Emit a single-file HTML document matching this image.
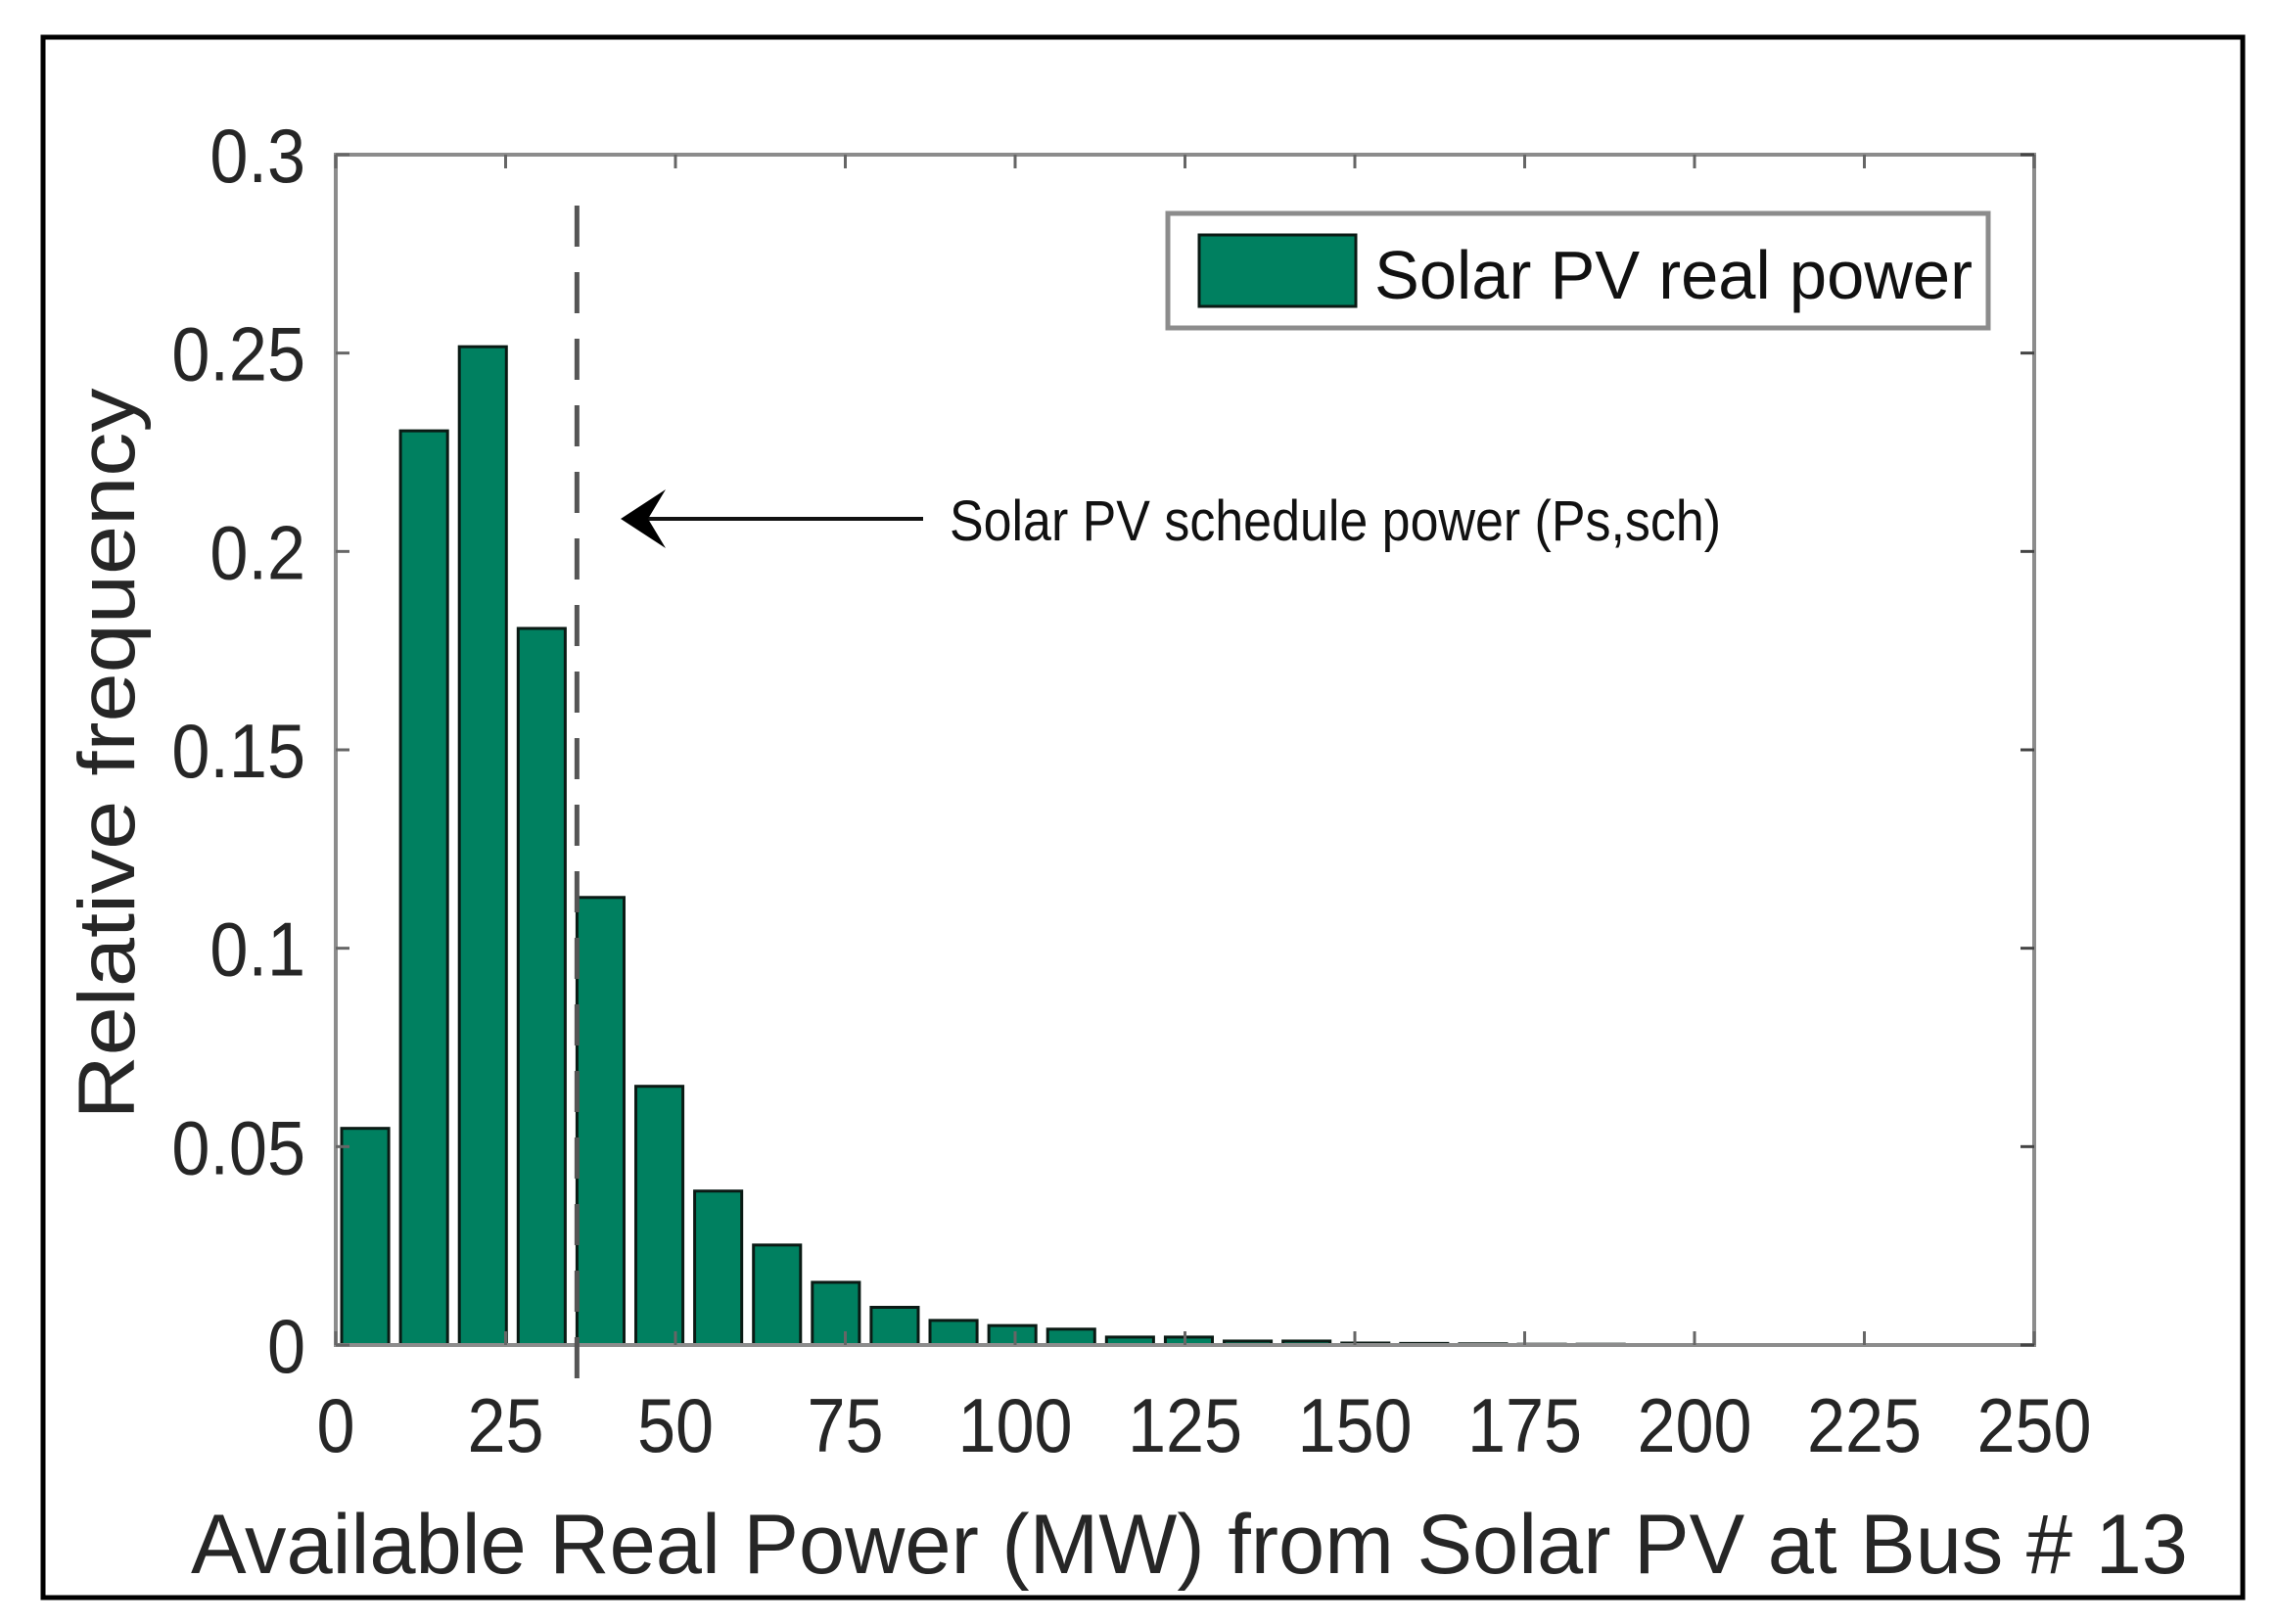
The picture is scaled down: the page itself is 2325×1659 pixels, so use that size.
<!DOCTYPE html>
<html><head><meta charset="utf-8"><style>
html,body{margin:0;padding:0;background:#fff;}
svg{display:block;font-family:"Liberation Sans",sans-serif;}
</style></head><body>
<svg id="chart" width="2325" height="1659" viewBox="0 0 2325 1659" xmlns="http://www.w3.org/2000/svg">
<rect x="44" y="38" width="2247" height="1594" fill="#fff" stroke="#000" stroke-width="5"/>
<g id="plot"></g>
</svg>
<script>
const binCenters = [4.33,12.99,21.65,30.31,38.97,47.63,56.29,64.95,73.61,82.27,90.93,99.59,108.25,116.91,125.57,134.23,142.89,151.55,160.21,168.87,177.53,186.19,194.85,203.51,212.17,220.83,229.49,238.15];
const frequencies = [0.0546,0.2304,0.2516,0.1806,0.1128,0.0652,0.0388,0.0252,0.0158,0.0095,0.0062,0.0049,0.0040,0.0020,0.0020,0.0010,0.0010,0.0005,0.0004,0.0003,0.0002,0.0002,0.0001,0.0001,0.0001,0.0001,0.0001,0.0001];
const xTicks = [0,25,50,75,100,125,150,175,200,225,250];
const yTicks = [0,0.05,0.1,0.15,0.2,0.25,0.3];
const yTickLabels = ["0","0.05","0.1","0.15","0.2","0.25","0.3"];
const scheduleLine = [35.5];
const binWidth = 8.66;

const L=343,R=2078,T=158,B=1374;
const xs=v=>L+(v/250)*(R-L);
const ys=v=>B-(v/0.3)*(B-T);
const NS="http://www.w3.org/2000/svg";
const g=document.getElementById('plot');
function mk(tag,attrs,parent){const e=document.createElementNS(NS,tag);for(const k in attrs)e.setAttribute(k,attrs[k]);(parent||g).appendChild(e);return e;}

frequencies.forEach((f,i)=>{
  const c=binCenters[i],w=binWidth*0.8;
  const x0=xs(c-w/2),x1=xs(c+w/2),y0=ys(f);
  const r=mk('rect',{x:x0,y:y0,width:x1-x0,height:B-y0,fill:'#008060',stroke:'#0a1a14','stroke-width':3});
  
  
});

const ax=mk('rect',{x:L,y:T,width:R-L,height:B-T,fill:'none',stroke:'#8c8c8c','stroke-width':4});



xTicks.forEach(v=>{
  const x=xs(v);
  mk('line',{x1:x,y1:B,x2:x,y2:B-14,stroke:'#666','stroke-width':3});
  mk('line',{x1:x,y1:T,x2:x,y2:T+14,stroke:'#666','stroke-width':3});
  const t=mk('text',{x:0,y:0,'text-anchor':'middle','font-size':78,fill:'#262626',transform:'translate('+x+',1483) scale(0.9,1)'});
  t.textContent=String(v);
  
  
});
yTicks.forEach((v,i)=>{
  const y=ys(v);
  mk('line',{x1:L,y1:y,x2:L+14,y2:y,stroke:'#666','stroke-width':3});
  mk('line',{x1:R,y1:y,x2:R-14,y2:y,stroke:'#444','stroke-width':3});
  const t=mk('text',{x:0,y:0,'text-anchor':'end','font-size':78,fill:'#262626',transform:'translate(312,'+(y+28)+') scale(0.9,1)'});
  t.textContent=yTickLabels[i];
  
  
});

const sx=xs(scheduleLine[0]);
const dl=mk('line',{x1:sx,y1:210,x2:sx,y2:1410,stroke:'#555','stroke-width':5,'stroke-dasharray':'42 26'});



const al=mk('line',{x1:650,y1:530,x2:943,y2:530,stroke:'#111','stroke-width':4});


const ah=mk('path',{d:'M634 530 L680 500 L662 530 L680 560 Z',fill:'#000'});


const at=mk('text',{x:970,y:552,'font-size':58,fill:'#111',textLength:788,lengthAdjust:'spacingAndGlyphs'});
at.textContent='Solar PV schedule power (Ps,sch)';



const lg=mk('g',{});


mk('rect',{x:1193,y:218,width:838,height:117,fill:'#fff',stroke:'#8c8c8c','stroke-width':5},lg);
const sw=mk('rect',{x:1225,y:240,width:160,height:73,fill:'#008060',stroke:'#0a1a14','stroke-width':3},lg);


const lt=mk('text',{x:1404,y:305,'font-size':70,fill:'#111',textLength:611,lengthAdjust:'spacingAndGlyphs'},lg);
lt.textContent='Solar PV real power';



const xt=mk('text',{x:195,y:1607,'font-size':86,fill:'#262626',textLength:2040,lengthAdjust:'spacingAndGlyphs'});
xt.textContent='Available Real Power (MW) from Solar PV at Bus # 13';


const yt=mk('text',{x:0,y:0,'font-size':82,fill:'#262626','text-anchor':'middle',transform:'translate(137,770) rotate(-90)',textLength:747,lengthAdjust:'spacingAndGlyphs'});
yt.textContent='Relative frequency';


</script>
</body></html>
